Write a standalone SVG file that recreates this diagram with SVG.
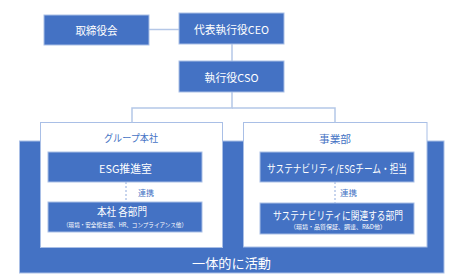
<svg xmlns="http://www.w3.org/2000/svg" width="458" height="278" viewBox="0 0 458 278">
<style>
.bx{fill:#4472C4;stroke:#A9BFE6;stroke-width:1}
.grp{fill:#FFFFFF;stroke:#A9BFE6;stroke-width:1}
.ln{fill:none;stroke:#B4C7E7;stroke-width:1.5}
.dl{fill:none;stroke:#8FAADC;stroke-width:1;stroke-dasharray:2,2}
text{font-family:"Noto Sans CJK JP","Noto Sans",sans-serif;text-anchor:middle;dominant-baseline:central}
.w{fill:#FFFFFF;font-size:11px}
.s{fill:#FFFFFF;font-size:6px}
.b{fill:#4472C4;font-size:10px}
.c{fill:#4472C4;font-size:8px}
</style>
<rect id="bg" x="19.5" y="141" width="424.5" height="132" class="bx"/>
<g id="group-hq">
<rect x="40.5" y="122.5" width="182" height="125" class="grp"/>
<text x="131" y="137" class="b" textLength="54" lengthAdjust="spacingAndGlyphs">グループ本社</text>
</g>
<g id="business">
<rect x="243.5" y="122.5" width="183.5" height="124.5" class="grp"/>
<text x="335" y="138" class="b" textLength="32" lengthAdjust="spacingAndGlyphs">事業部</text>
</g>
<g id="connectors">
<line x1="149" y1="29.5" x2="179" y2="29.5" class="ln"/>
<line x1="232" y1="44" x2="232" y2="61" class="ln"/>
<polyline points="232,92 232,108 132,108 132,122.5" class="ln"/>
<polyline points="232,108 335,108 335,122.5" class="ln"/>
<line x1="126" y1="182" x2="126" y2="202" class="dl"/>
<line x1="335" y1="182" x2="335" y2="203" class="dl"/>
<text x="146" y="192.5" class="c" textLength="16" lengthAdjust="spacingAndGlyphs">連携</text>
<text x="348.5" y="192.5" class="c" textLength="17" lengthAdjust="spacingAndGlyphs">連携</text>
</g>
<g id="board">
<rect x="44" y="15" width="105" height="30" class="bx"/>
<text x="96.5" y="30" class="w" textLength="42" lengthAdjust="spacingAndGlyphs">取締役会</text>
</g>
<g id="ceo">
<rect x="179" y="13" width="105" height="31" class="bx"/>
<text x="231.5" y="28.5" class="w" textLength="75" lengthAdjust="spacingAndGlyphs">代表執行役CEO</text>
</g>
<g id="cso">
<rect x="179" y="61" width="105" height="31" class="bx"/>
<text x="231.5" y="76.5" class="w" textLength="54" lengthAdjust="spacingAndGlyphs">執行役CSO</text>
</g>
<g id="esg-office">
<rect x="48" y="152" width="154" height="30" class="bx"/>
<text x="125.5" y="167.5" class="w" textLength="53" lengthAdjust="spacingAndGlyphs">ESG推進室</text>
</g>
<g id="hq-depts">
<rect x="48" y="202" width="154" height="30" class="bx"/>
<text x="122" y="211" class="w" textLength="50" lengthAdjust="spacingAndGlyphs">本社 各部門</text>
<text x="125" y="224.5" class="s" textLength="124" lengthAdjust="spacingAndGlyphs">（環境・安全衛生部、HR、コンプライアンス他）</text>
</g>
<g id="esg-team">
<rect x="260" y="152" width="154" height="30" class="bx"/>
<text x="337" y="168" class="w" textLength="140" lengthAdjust="spacingAndGlyphs">サステナビリティ/ESGチーム・担当</text>
</g>
<g id="bu-depts">
<rect x="260" y="203" width="154" height="31" class="bx"/>
<text x="338" y="214.5" class="w" textLength="130" lengthAdjust="spacingAndGlyphs">サステナビリティに関連する部門</text>
<text x="338" y="226.5" class="s" textLength="96" lengthAdjust="spacingAndGlyphs">（環境・品質保証、調達、R&amp;D他）</text>
</g>
<text x="231.5" y="262" class="w" style="font-size:13px" textLength="79" lengthAdjust="spacingAndGlyphs">一体的に活動</text>
</svg>
